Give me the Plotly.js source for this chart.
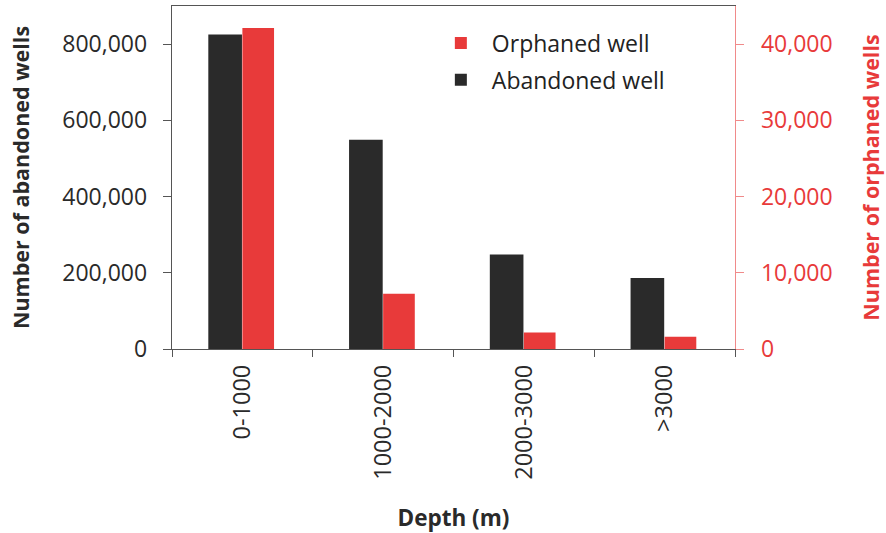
<!DOCTYPE html>
<html>
<head>
<meta charset="utf-8">
<script src="https://cdn.plot.ly/plotly-3.0.1.min.js"></script>
<style>html,body{margin:0;padding:0;background:#fff;}#chart{width:886px;height:533px;}</style>
</head>
<body>
<div id="chart"></div>
<script>
var categories = ["0-1000", "1000-2000", "2000-3000", ">3000"];
var abandonedWells = [825000, 549000, 248000, 186500];
var orphanedWells = [42100, 7250, 2150, 1600];
var seriesNames = ["Orphaned well", "Abandoned well"];

var FONT = "Open Sans, Noto Sans, sans-serif";
var RED = "#e83a3a";
var BLACK = "#2a2a2a";

var traces = [
  {
    type: "bar", name: seriesNames[0], x: categories, y: orphanedWells,
    yaxis: "y2", marker: {color: RED, line: {width: 0}},
    offset: 0, width: 0.225, legendgroup: "o", hoverinfo: "x+y"
  },
  {
    type: "bar", name: seriesNames[1], x: categories, y: abandonedWells,
    yaxis: "y", marker: {color: BLACK, line: {width: 0}},
    offset: -0.242, width: 0.239, legendgroup: "a", hoverinfo: "x+y"
  }
];

var layout = {
  width: 886, height: 533,
  margin: {l: 172, r: 151, t: 5.5, b: 183.7, pad: 0},
  paper_bgcolor: "#fff", plot_bgcolor: "#fff",
  font: {family: FONT, size: 23, color: "#2a2a2a"},
  showlegend: true,
  legend: {
    x: 0.458, y: 0.955, xanchor: "left", yanchor: "top",
    traceorder: "grouped", tracegroupgap: 4,
    itemwidth: 52,
    font: {family: FONT, size: 23, color: "#222"},
    bgcolor: "rgba(0,0,0,0)"
  },
  xaxis: {
    type: "category",
    tickson: "boundaries",
    ticks: "outside", ticklen: 7, tickcolor: "#555", tickwidth: 1,
    showline: true, linecolor: "#555", linewidth: 1.3, mirror: true,
    showgrid: false, zeroline: false,
    tickangle: -90,
    ticklabelstandoff: 5,
    tickfont: {family: FONT, size: 23.5, color: "#2a2a2a"},
    title: {text: "<b>Depth (m)</b>", font: {family: FONT, size: 22.5, color: "#2a2a2a"}, standoff: 36},
    range: [-0.5, 3.5]
  },
  yaxis: {
    range: [0, 900000],
    tickvals: [0, 200000, 400000, 600000, 800000],
    ticktext: ["0", "200,000", "400,000", "600,000", "800,000"],
    ticks: "outside", ticklen: 8, tickcolor: "#555", tickwidth: 1,
    showline: true, linecolor: "#555", linewidth: 1.3,
    showgrid: false, zeroline: false,
    ticklabelstandoff: 11,
    tickfont: {family: FONT, size: 23, color: "#2a2a2a"},
    title: {text: "<b>Number of abandoned wells</b>", font: {family: FONT, size: 21.5, color: "#2a2a2a"}, standoff: 26}
  },
  yaxis2: {
    overlaying: "y", side: "right",
    range: [0, 45000],
    tickvals: [0, 10000, 20000, 30000, 40000],
    ticktext: ["0", "10,000", "20,000", "30,000", "40,000"],
    ticks: "outside", ticklen: 8, tickcolor: "#f08a8a", tickwidth: 1,
    showline: true, linecolor: "#f08a8a", linewidth: 1.3,
    showgrid: false, zeroline: false,
    ticklabelstandoff: 12,
    tickfont: {family: FONT, size: 23, color: RED},
    title: {text: "<b>Number of orphaned wells</b>", font: {family: FONT, size: 21.5, color: RED}, standoff: 32}
  }
};

Plotly.newPlot("chart", traces, layout, {displayModeBar: false, staticPlot: true});
</script>
</body>
</html>
